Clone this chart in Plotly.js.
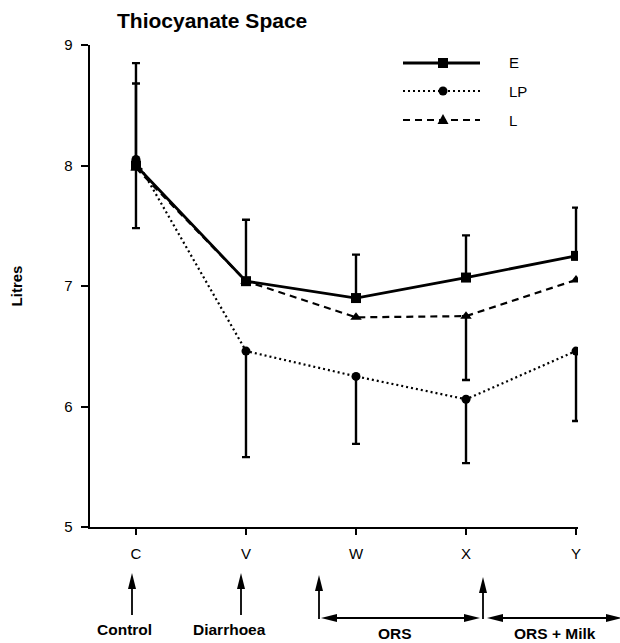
<!DOCTYPE html>
<html>
<head>
<meta charset="utf-8">
<script src="https://cdn.plot.ly/plotly-3.0.1.min.js"></script>
<style>
  html, body { margin: 0; padding: 0; background: #fff; }
  #chart { width: 620px; height: 643px; }
</style>
</head>
<body>
<div id="chart"></div>
<script>
// Sampling points
const stages = ['C', 'V', 'W', 'X', 'Y'];

// Thiocyanate space (litres), group means
const eValues  = [8.00, 7.04, 6.90, 7.07, 7.25];
const lpValues = [8.05, 6.46, 6.25, 6.06, 6.46];
const lValues  = [7.98, 7.04, 6.74, 6.75, 7.05];

// Error bar lengths (litres); NaN where no bar is shown
const eErrUp    = [0.85, 0.51, 0.36, 0.35, 0.40];
const lpErrDown = [0.57, 0.88, 0.56, 0.53, 0.58];
const lErrUp    = [0.70, NaN, NaN, NaN, NaN];
const lErrDown  = [NaN, NaN, NaN, 0.53, NaN];

const yTicks = [5, 6, 7, 8, 9];
const seriesNames = ['E', 'LP', 'L'];
const phaseLabels = ['Control', 'Diarrhoea', 'ORS', 'ORS + Milk'];

// Plot-area box in page pixels, used for the hand-drawn legend and phase arrows
const PL = 90, PR = 578, PT = 45, PB = 527;
const fx = p => (p - PL) / (PR - PL);
const fy = p => (PB - p) / (PB - PT);

const FONT = 'Liberation Sans, Arial, sans-serif';
const nanArr = stages.map(() => NaN);

const errStyle = { type: 'data', symmetric: false, color: '#000', thickness: 2.4, width: 4 };

const traces = [
  {
    name: seriesNames[1], x: stages, y: lpValues, type: 'scatter', mode: 'lines+markers',
    line: { color: '#000', width: 2.2, dash: '2px,3px' },
    marker: { symbol: 'circle', size: 9, color: '#000' },
    error_y: Object.assign({}, errStyle, { array: nanArr, arrayminus: lpErrDown })
  },
  {
    name: seriesNames[2], x: stages, y: lValues, type: 'scatter', mode: 'lines+markers',
    line: { color: '#000', width: 2.2, dash: '7px,5px' },
    marker: { symbol: 'triangle-up', size: 10, color: '#000' },
    error_y: Object.assign({}, errStyle, { array: lErrUp, arrayminus: lErrDown })
  },
  {
    name: seriesNames[0], x: stages, y: eValues, type: 'scatter', mode: 'lines+markers',
    line: { color: '#000', width: 2.8 },
    marker: { symbol: 'square', size: 10, color: '#000' },
    error_y: Object.assign({}, errStyle, { array: eErrUp, arrayminus: nanArr })
  }
];

// ----- legend (line sample, marker, label) -----
const shapes = [];
const annotations = [];
const legendRows = [63, 91, 120];
const legendDash = ['solid', '2px,3px', '7px,5px'];
const legendWidth = [2.8, 2.2, 2.2];
legendRows.forEach((py, i) => {
  shapes.push({
    type: 'line', xref: 'paper', yref: 'paper',
    x0: fx(403), x1: fx(480), y0: fy(py), y1: fy(py),
    line: { color: '#000', width: legendWidth[i], dash: legendDash[i] }
  });
  const cx = 443;
  if (i === 0) {
    shapes.push({ type: 'rect', xref: 'paper', yref: 'paper',
      x0: fx(cx - 5), x1: fx(cx + 5), y0: fy(py + 5), y1: fy(py - 5),
      fillcolor: '#000', line: { width: 0 } });
  } else if (i === 1) {
    shapes.push({ type: 'circle', xref: 'paper', yref: 'paper',
      x0: fx(cx - 4.5), x1: fx(cx + 4.5), y0: fy(py + 4.5), y1: fy(py - 4.5),
      fillcolor: '#000', line: { width: 0 } });
  } else {
    shapes.push({ type: 'path', xref: 'paper', yref: 'paper',
      path: `M${fx(cx)},${fy(py - 6)} L${fx(cx + 5.5)},${fy(py + 4)} L${fx(cx - 5.5)},${fy(py + 4)} Z`,
      fillcolor: '#000', line: { width: 0 } });
  }
  annotations.push({
    xref: 'paper', yref: 'paper', x: fx(507), y: fy(py), xanchor: 'left', yanchor: 'middle',
    text: seriesNames[i], showarrow: false, font: { family: FONT, size: 15, color: '#000' }
  });
});

// ----- phase arrows below the axis -----
const HEAD = 16, HALF = 4;
function headUp(x, tip) {
  return { type: 'path', xref: 'paper', yref: 'paper', fillcolor: '#000', line: { width: 0 },
    path: `M${fx(x)},${fy(tip)} L${fx(x + HALF)},${fy(tip + HEAD)} L${fx(x - HALF)},${fy(tip + HEAD)} Z` };
}
function headSide(tip, y, dir) {
  const b = tip - dir * HEAD;
  return { type: 'path', xref: 'paper', yref: 'paper', fillcolor: '#000', line: { width: 0 },
    path: `M${fx(tip)},${fy(y)} L${fx(b)},${fy(y - HALF)} L${fx(b)},${fy(y + HALF)} Z` };
}
function vArrow(x, tip, tail) {
  shapes.push({ type: 'line', xref: 'paper', yref: 'paper',
    x0: fx(x), x1: fx(x), y0: fy(tail), y1: fy(tip + HEAD - 2), line: { color: '#000', width: 1.8 } });
  shapes.push(headUp(x, tip));
}
function hArrow(x0, x1, y) {
  shapes.push({ type: 'line', xref: 'paper', yref: 'paper',
    x0: fx(x0 + HEAD - 2), x1: fx(x1 - HEAD + 2), y0: fy(y), y1: fy(y), line: { color: '#000', width: 1.8 } });
  shapes.push(headSide(x0, y, -1));
  shapes.push(headSide(x1, y, 1));
}
vArrow(132, 573, 615);
vArrow(241, 573, 615);
vArrow(319, 575, 619);
vArrow(483, 577, 619);
hArrow(321, 480, 618);
hArrow(487, 622, 618);

const labelPos = [[124, 629], [229, 629], [395, 633], [555, 633]];
phaseLabels.forEach((t, i) => {
  annotations.push({
    xref: 'paper', yref: 'paper', x: fx(labelPos[i][0]), y: fy(labelPos[i][1]),
    xanchor: 'center', yanchor: 'middle', text: t, showarrow: false,
    font: { family: FONT, size: 15.5, weight: 'bold', color: '#000' }
  });
});

const layout = {
  width: 620, height: 643,
  margin: { l: PL, r: 620 - PR, t: PT, b: 643 - PB },
  paper_bgcolor: '#fff', plot_bgcolor: '#fff',
  showlegend: false,
  title: {
    text: 'Thiocyanate Space',
    font: { family: FONT, size: 21, weight: 'bold', color: '#000' },
    xref: 'container', yref: 'container', x: 117 / 620, xanchor: 'left',
    y: 1 - 21 / 643, yanchor: 'middle'
  },
  xaxis: {
    type: 'category', range: [-0.418, 4.018],
    showgrid: false, zeroline: false,
    showline: true, linecolor: '#000', linewidth: 2.2,
    ticks: 'outside', ticklen: 6, tickwidth: 2, tickcolor: '#000',
    ticklabelstandoff: 6,
    tickfont: { family: FONT, size: 15, color: '#000' }
  },
  yaxis: {
    range: [5, 9], tickvals: yTicks, ticktext: yTicks.map(String),
    showgrid: false, zeroline: false,
    showline: true, linecolor: '#000', linewidth: 2.4,
    ticks: 'outside', ticklen: 7, tickwidth: 2, tickcolor: '#000',
    ticklabelstandoff: 5,
    tickfont: { family: FONT, size: 15, color: '#000' },
    title: { text: 'Litres', standoff: 38, font: { family: FONT, size: 15, weight: 'bold', color: '#000' } }
  },
  shapes: shapes,
  annotations: annotations
};

Plotly.newPlot('chart', traces, layout, { displayModeBar: false, staticPlot: true });
</script>
</body>
</html>
